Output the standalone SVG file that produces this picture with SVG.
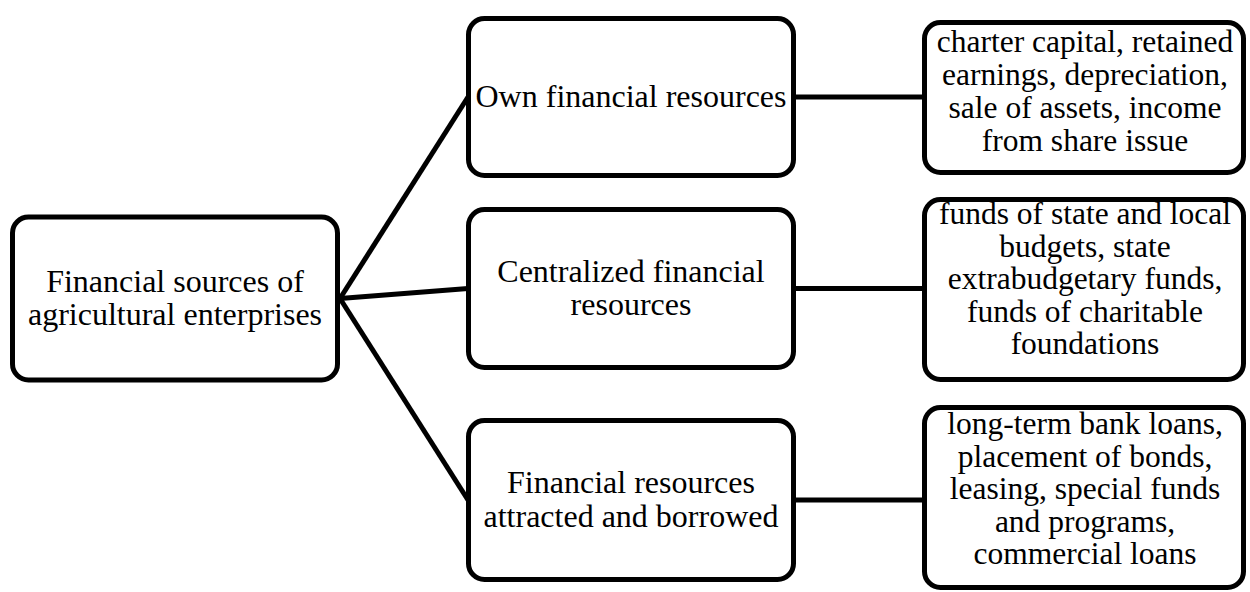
<svg xmlns="http://www.w3.org/2000/svg" width="1250" height="592" viewBox="0 0 1250 592">
<style>
.box{fill:#fff;stroke:#000;stroke-width:5}
.t{font-family:"Liberation Serif","Times New Roman",serif;font-size:32px;fill:#000;text-anchor:middle}
.s{font-size:31.5px}
.c{stroke:#000;stroke-width:5;fill:none}
</style>
<rect width="1250" height="592" fill="#fff"/>
<g id="connectors">
<line class="c" x1="340" y1="298.5" x2="468" y2="97"/>
<line class="c" x1="340" y1="298.5" x2="468" y2="288.5"/>
<line class="c" x1="340" y1="298.5" x2="468" y2="500"/>
<line class="c" x1="793" y1="97" x2="925" y2="97"/>
<line class="c" x1="793" y1="288.5" x2="925" y2="288.5"/>
<line class="c" x1="793" y1="500" x2="925" y2="500"/>
</g>
<g id="root">
<rect class="box" x="12.5" y="217" width="325" height="163" rx="16"/>
<text class="t" x="175" y="291.5">Financial sources of</text>
<text class="t" x="175" y="325">agricultural enterprises</text>
</g>
<g id="own">
<rect class="box" x="468.5" y="18.5" width="325" height="157" rx="16"/>
<text class="t" x="631" y="107">Own financial resources</text>
</g>
<g id="centralized">
<rect class="box" x="468.5" y="209.5" width="325" height="158" rx="16"/>
<text class="t" x="631" y="282">Centralized financial</text>
<text class="t" x="631" y="315">resources</text>
</g>
<g id="attracted">
<rect class="box" x="468.5" y="420.5" width="325" height="159" rx="16"/>
<text class="t" x="631" y="493">Financial resources</text>
<text class="t" x="631" y="527">attracted and borrowed</text>
</g>
<g id="own-list">
<rect class="box" x="924.5" y="22.5" width="319" height="150" rx="16"/>
<text class="t s" x="1085" y="52">charter capital, retained</text>
<text class="t s" x="1085" y="85">earnings, depreciation,</text>
<text class="t s" x="1085" y="118">sale of assets, income</text>
<text class="t s" x="1085" y="151">from share issue</text>
</g>
<g id="centralized-list">
<rect class="box" x="924.5" y="199.5" width="319" height="180" rx="16"/>
<text class="t s" x="1085" y="224">funds of state and local</text>
<text class="t s" x="1085" y="256.5">budgets, state</text>
<text class="t s" x="1085" y="289">extrabudgetary funds,</text>
<text class="t s" x="1085" y="321.5">funds of charitable</text>
<text class="t s" x="1085" y="354">foundations</text>
</g>
<g id="attracted-list">
<rect class="box" x="924.5" y="407.5" width="319" height="180" rx="16"/>
<text class="t s" x="1085" y="434">long-term bank loans,</text>
<text class="t s" x="1085" y="466.5">placement of bonds,</text>
<text class="t s" x="1085" y="499">leasing, special funds</text>
<text class="t s" x="1085" y="531.5">and programs,</text>
<text class="t s" x="1085" y="564">commercial loans</text>
</g>
</svg>
